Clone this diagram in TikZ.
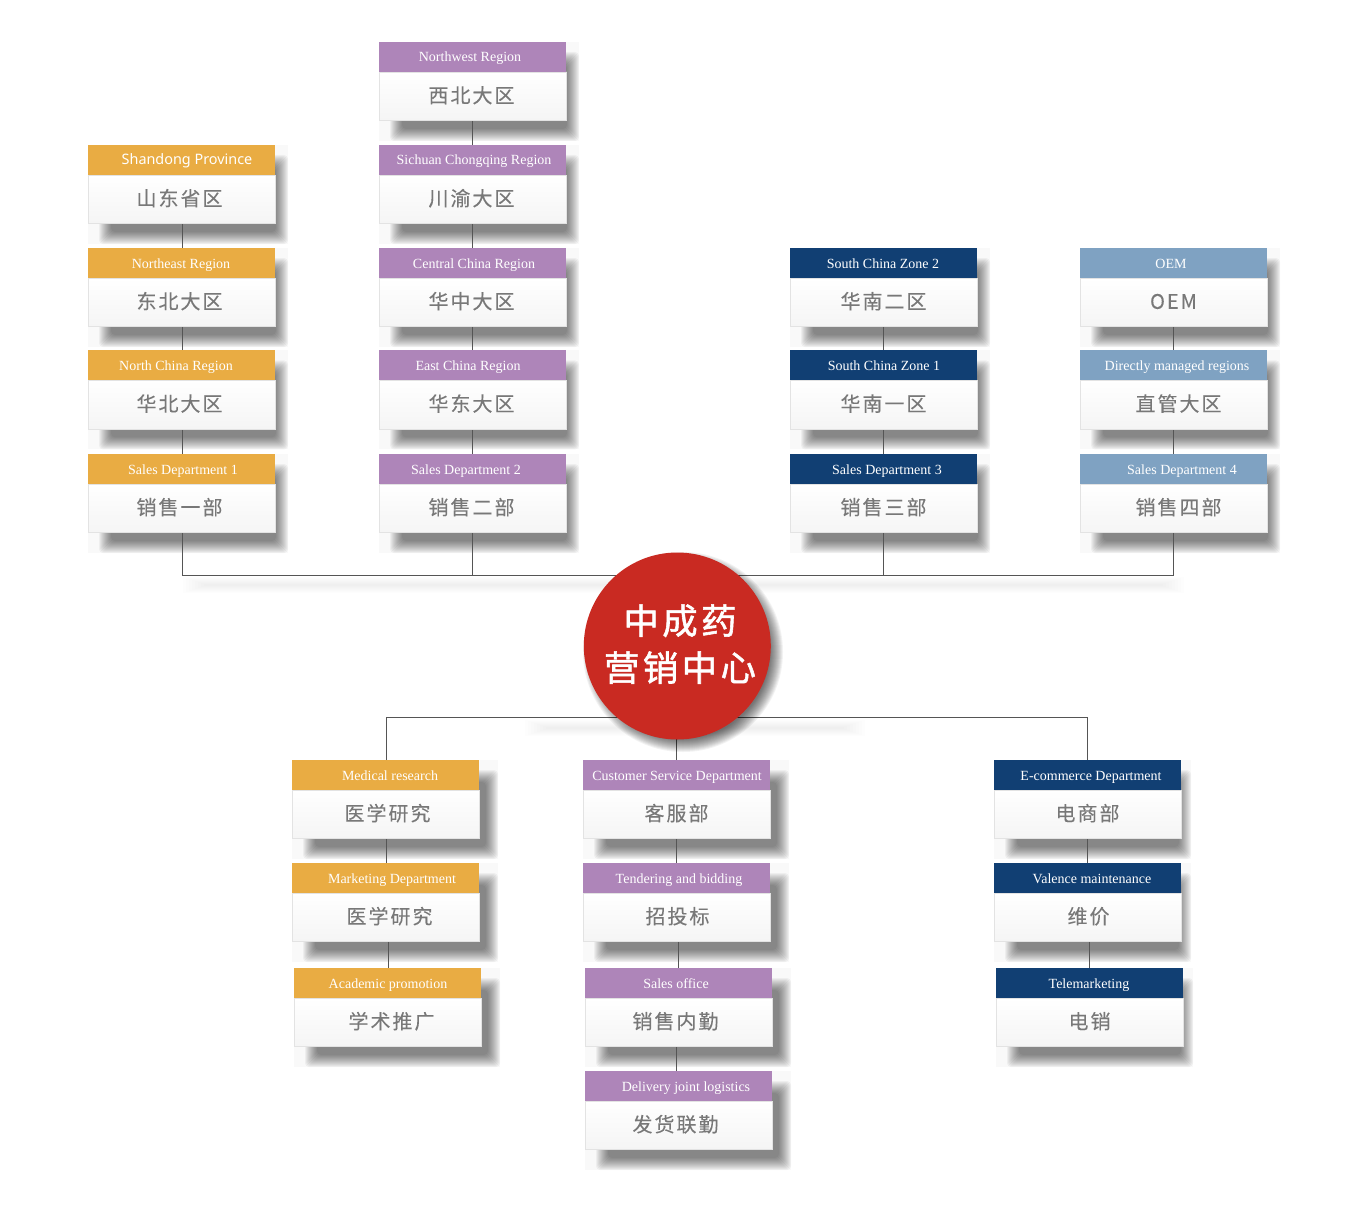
\documentclass[tikz,border=0pt]{standalone}
\usepackage{fontspec}
\setmainfont{Liberation Serif}
\newfontfamily\cnfont[LetterSpace=10,FakeBold=0.15]{Noto Sans CJK SC}
\newfontfamily\cnbold[LetterSpace=10,FakeBold=1.6]{Noto Sans CJK SC}
\newfontfamily\ensans{Noto Sans}
\usetikzlibrary{calc}
\pgfdeclarelayer{under}
\pgfdeclarelayer{conn}
\pgfsetlayers{under,conn,main}
\definecolor{cOrange}{HTML}{E9AC43}
\definecolor{cPurple}{HTML}{AE85B9}
\definecolor{cNavy}{HTML}{113F73}
\definecolor{cSteel}{HTML}{7FA2C2}
\definecolor{cLine}{HTML}{555555}
\definecolor{cCn}{HTML}{787878}
\definecolor{cRed}{HTML}{C92A22}
\tikzset{
  x=0.75pt,y=-0.75pt,
  headbox/.style={anchor=north west,minimum width=140.25pt,minimum height=22.5pt,inner sep=0pt,outer sep=0pt,fill=#1},
  bodybox/.style={anchor=north west,minimum width=140.25pt,minimum height=36.4pt,inner sep=0pt,outer sep=0pt,
    top color=white,bottom color=black!4,draw=black!11,line width=0.6pt},
  entext/.style={text=white,font=\fontsize{10.5pt}{12pt}\selectfont,inner sep=0pt,anchor=base},
  cntext/.style={text=cCn,font=\cnfont\fontsize{15pt}{18pt}\selectfont,inner sep=0pt,anchor=base},
  hubtext/.style={text=white,font=\cnbold\fontsize{26.5pt}{35pt}\selectfont,inner sep=0pt,anchor=base},
  link/.style={draw=cLine,line width=0.7pt},
}
\def\shw{200}
% \card{name}{x}{y}{colour}{en centre x}{english}{cn centre x}{chinese}
\newcommand{\card}[8]{%
  \begin{pgfonlayer}{under}
    \fill[black!2.5] (#2,#3) rectangle ({#2+\shw},{#3+99});
    \foreach \i in {0,...,12}{
      \fill[black,opacity=0.043,rounded corners=3pt] ({#2+11+\i},{#3+10+\i}) rectangle ({#2+\shw-\i},{#3+99-\i});
    }
  \end{pgfonlayer}
  \node[bodybox] (#1b) at (#2,#3+30) {};
  \node[headbox=#4] (#1h) at (#2,#3) {};
  \node[entext] (#1e) at (#5,#3+20) {#6};
  \node[cntext] (#1c) at (#7,#3+60.8) {#8};
}
\begin{document}
\begin{tikzpicture}
\useasboundingbox (0,0) rectangle (1362,1227);
\begin{pgfonlayer}{under}
\fill[white] (0,0) rectangle (1362,1227);
\end{pgfonlayer}
% column 1
\card{aa}{88}{145}{cOrange}{187}{\ensans\fontsize{10.8pt}{12pt}\selectfont Shandong Province}{179.5}{山东省区}
\card{ab}{88}{248}{cOrange}{181}{Northeast Region}{179.5}{东北大区}
\card{ac}{88}{350.4}{cOrange}{176}{North China Region}{179.5}{华北大区}
\card{ad}{88}{454}{cOrange}{183}{Sales Department 1}{179.5}{销售一部}
% column 2
\card{ba}{379}{42}{cPurple}{470}{Northwest Region}{471.5}{西北大区}
\card{bb}{379}{145}{cPurple}{474}{Sichuan Chongqing Region}{471.5}{川渝大区}
\card{bc}{379}{248}{cPurple}{474}{Central China Region}{471.5}{华中大区}
\card{bd}{379}{350.4}{cPurple}{468}{East China Region}{471.5}{华东大区}
\card{be}{379}{454}{cPurple}{466}{Sales Department 2}{471.5}{销售二部}
% column 3
\card{ca}{790}{248}{cNavy}{883}{South China Zone 2}{883.5}{华南二区}
\card{cb}{790}{350.4}{cNavy}{884}{South China Zone 1}{883.5}{华南一区}
\card{cc}{790}{454}{cNavy}{887}{Sales Department 3}{883.5}{销售三部}
% column 4
\card{da}{1080}{248}{cSteel}{1171}{OEM}{1173.5}{OEM}
\card{db}{1080}{350.4}{cSteel}{1177}{Directly managed regions}{1178.5}{直管大区}
\card{dc}{1080}{454}{cSteel}{1182}{Sales Department 4}{1178.5}{销售四部}
\def\shw{206}
% lower left
\card{ea}{292}{760}{cOrange}{390}{Medical research}{387.5}{医学研究}
\card{eb}{292}{863}{cOrange}{392}{Marketing Department}{389.5}{医学研究}
\card{ec}{294}{968}{cOrange}{388}{Academic promotion}{391.5}{学术推广}
% lower middle
\card{fa}{583}{760}{cPurple}{677}{Customer Service Department}{676.5}{客服部}
\card{fb}{583}{863}{cPurple}{679}{Tendering and bidding}{677.5}{招投标}
\card{fc}{585}{968}{cPurple}{676}{Sales office}{675.5}{销售内勤}
\card{fd}{585}{1071}{cPurple}{686}{Delivery joint logistics}{675.5}{发货联勤}
\def\shw{197}
% lower right
\card{ga}{994}{760}{cNavy}{1091}{E-commerce Department}{1087.5}{电商部}
\card{gb}{994}{863}{cNavy}{1092}{Valence maintenance}{1088.5}{维价}
\card{gc}{996}{968}{cNavy}{1089}{Telemarketing}{1089.5}{电销}
% soft shadows of the buses
\begin{pgfonlayer}{under}
  \foreach \i in {0,...,7}{
    \fill[black,opacity=0.009] ({183+3*\i},{577+\i}) rectangle ({1184-3*\i},{593-\i});
    \fill[black,opacity=0.007] ({525+3*\i},{720+\i}) rectangle ({865-3*\i},{736-\i});
  }
\end{pgfonlayer}
% connectors
\coordinate (busL) at (182.5,575);
\coordinate (busR) at (1173.5,575);
\coordinate (busM) at (386.5,717);
\coordinate (busN) at (1087.5,717);
\coordinate (xB) at (472.5,0);
\coordinate (xC) at (883.5,0);
\coordinate (xE) at (388.5,0);
\coordinate (xF) at (676.5,0);
\coordinate (xFb) at (678,0);
\coordinate (xG) at (1089,0);
\begin{pgfonlayer}{conn}
\foreach \u/\v/\X in {aa/ab/busL,ab/ac/busL,ac/ad/busL,ba/bb/xB,bb/bc/xB,bc/bd/xB,bd/be/xB,ca/cb/xC,cb/cc/xC,da/db/busR,db/dc/busR,ea/eb/busM,eb/ec/xE,fa/fb/xF,fb/fc/xFb,fc/fd/xF,ga/gb/busN,gb/gc/xG}{
  \draw[link] (\u b.south -| \X) -- (\v h.north -| \X);
}
\draw[link] (adb.south -| busL) -- (busL) -- (busR) -- (dcb.south -| busR);
\draw[link] (beb.south -| xB) -- (busL -| xB);
\draw[link] (ccb.south -| xC) -- (busL -| xC);
\draw[link] (eah.north -| busM) -- (busM) -- (busN) -- (gah.north -| busN);
\draw[link] (busM -| xF) -- (fah.north -| xF);
\end{pgfonlayer}
% hub
\foreach \i in {0,...,13}{
  \fill[black,opacity=0.05] (683,652) circle ({100-\i});
}
\node[circle,fill=cRed,minimum size=140.25pt,inner sep=0pt,outer sep=0pt] (hub) at (677.3,646) {};
\node[hubtext] (hubt) at (680,634) {中成药};
\node[hubtext] (hubb) at (680,681) {营销中心};
\end{tikzpicture}
\end{document}
